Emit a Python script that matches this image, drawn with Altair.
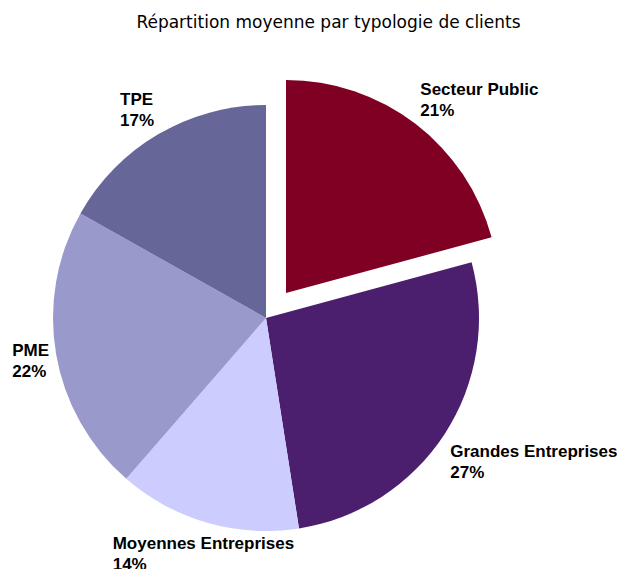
import altair as alt
import pandas as pd

categories = ["Secteur Public", "Grandes Entreprises", "Moyennes Entreprises", "PME", "TPE"]
values = [21, 27, 14, 22, 17]
pct_labels = ["21%", "27%", "14%", "22%", "17%"]
colors = ["#7F0023", "#4B1F6E", "#CCCCFF", "#9999CC", "#666699"]

df = pd.DataFrame({
    "cat": categories,
    "value": values,
    "pct": pct_labels,
    "rank": list(range(len(categories))),
})
df["label"] = [c + "\n" + p for c, p in zip(categories, pct_labels)]

CX, CY = 258, 270          # main pie centre
EX, EY = 278, 245          # exploded slice centre
R = 213

base = alt.Chart(df).encode(
    theta=alt.Theta("value:Q", stack=True),
    order=alt.Order("rank:Q", sort="ascending"),
)

color_enc = alt.Color("cat:N", scale=alt.Scale(domain=categories, range=colors), legend=None)
is_sp = "datum.cat === 'Secteur Public'"

main_pie = base.mark_arc(radius=R).encode(
    x=alt.value(CX), y=alt.value(CY), color=color_enc,
    opacity=alt.condition(is_sp, alt.value(0), alt.value(1)),
)
exploded = base.mark_arc(radius=R).encode(
    x=alt.value(EX), y=alt.value(EY), color=color_enc,
    opacity=alt.condition(is_sp, alt.value(1), alt.value(0)),
)

label_font = "Liberation Sans"
title_font = "DejaVu Sans"
def label_layer(cat, radius, cx, cy, dx=0, dy=0):
    return base.mark_text(
        radius=radius, align="left", baseline="alphabetic", lineBreak="\n",
        lineHeight=21, dx=dx, dy=dy,
        font=label_font, fontSize=17, fontWeight="bold", color="black",
    ).encode(
        x=alt.value(cx), y=alt.value(cy),
        text=alt.condition(f"datum.cat === '{cat}'", alt.Text("label:N"), alt.value("")),
    )

lab_sp = label_layer("Secteur Public", 221, EX, EY, dy=-22)
lab_ge = label_layer("Grandes Entreprises", 222, CX, CY, dx=-2, dy=18)
lab_me = label_layer("Moyennes Entreprises", 240, CX, CY, dx=-87)
lab_pme = label_layer("PME", 221, CX, CY, dx=-36)
lab_tpe = label_layer("TPE", 222, CX, CY, dx=-34, dy=-21)

chart = alt.layer(main_pie, exploded, lab_sp, lab_ge, lab_me, lab_pme, lab_tpe).properties(
    width=609, height=521,
    autosize="none",
    padding={"left": 0, "top": 40, "right": 0, "bottom": 0},
    title=alt.TitleParams(
        "Répartition moyenne par typologie de clients",
        font=title_font, fontSize=17, fontWeight="normal", color="black",
        anchor="middle", frame="group", dx=16, offset=3, baseline="alphabetic",
    ),
).configure_view(stroke=None)

chart.save("out.html", embed_options={"renderer": "svg", "actions": False})
